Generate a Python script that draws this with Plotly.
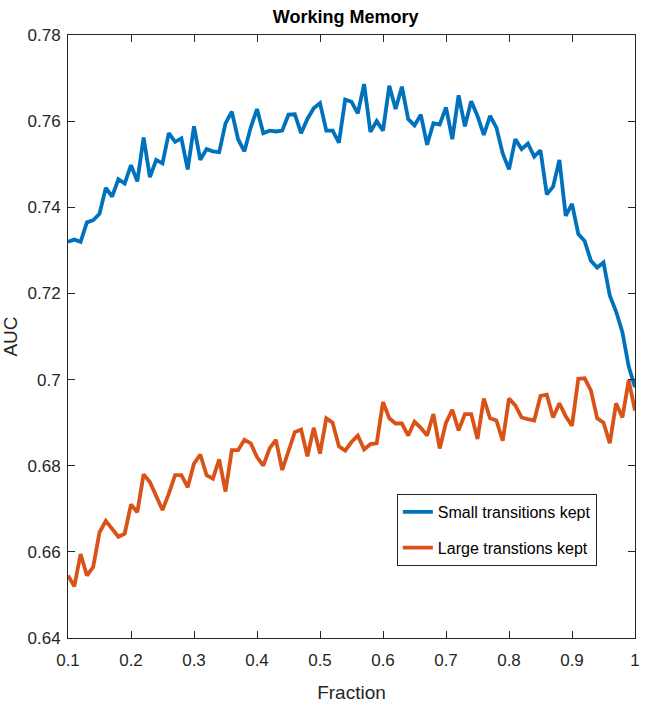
import plotly.graph_objects as go

fraction = [round(0.10 + 0.01 * i, 2) for i in range(91)]

small_kept = [
    0.7320, 0.7325, 0.7320, 0.7365, 0.7370, 0.7385, 0.7445, 0.7425, 0.7465, 0.7455,
    0.7498, 0.7460, 0.7562, 0.7470, 0.7510, 0.7502, 0.7572, 0.7552, 0.7560, 0.7488,
    0.7588, 0.7510, 0.7535, 0.7530, 0.7528, 0.7595, 0.7622, 0.7558, 0.7530, 0.7585,
    0.7628, 0.7572, 0.7578, 0.7576, 0.7578, 0.7615, 0.7616, 0.7572, 0.7605, 0.7630,
    0.7642, 0.7578, 0.7578, 0.7550, 0.7650, 0.7645, 0.7618, 0.7686, 0.7575, 0.7600,
    0.7578, 0.7682, 0.7628, 0.7680, 0.7605, 0.7590, 0.7615, 0.7545, 0.7595, 0.7592,
    0.7632, 0.7558, 0.7660, 0.7588, 0.7646, 0.7612, 0.7568, 0.7612, 0.7585, 0.7525,
    0.7488, 0.7558, 0.7535, 0.7548, 0.7518, 0.7532, 0.7430, 0.7448, 0.7510, 0.7380,
    0.7408, 0.7338, 0.7322, 0.7276, 0.7260, 0.7272, 0.7195, 0.7158, 0.7110, 0.7030,
    0.6982,
]

large_kept = [
    0.6545, 0.6520, 0.6595, 0.6545, 0.6565, 0.6645, 0.6672, 0.6655, 0.6635, 0.6642,
    0.6710, 0.6692, 0.6780, 0.6762, 0.6728, 0.6697, 0.6735, 0.6778, 0.6778, 0.6750,
    0.6805, 0.6826, 0.6778, 0.6770, 0.6815, 0.6740, 0.6836, 0.6836, 0.6860, 0.6852,
    0.6820, 0.6800, 0.6840, 0.6860, 0.6790, 0.6832, 0.6878, 0.6884, 0.6822, 0.6888,
    0.6828, 0.6910, 0.6900, 0.6845, 0.6835, 0.6855, 0.6870, 0.6838, 0.6850, 0.6852,
    0.6948, 0.6910, 0.6898, 0.6898, 0.6870, 0.6902, 0.6888, 0.6870, 0.6920, 0.6840,
    0.6900, 0.6930, 0.6882, 0.6920, 0.6920, 0.6862, 0.6956, 0.6910, 0.6905, 0.6858,
    0.6956, 0.6940, 0.6912, 0.6908, 0.6905, 0.6962, 0.6965, 0.6912, 0.6945, 0.6915,
    0.6893, 0.7002, 0.7003, 0.6975, 0.6910, 0.6900, 0.6852, 0.6945, 0.6912, 0.6998,
    0.6928,
]

x_ticks = [0.1, 0.2, 0.3, 0.4, 0.5, 0.6, 0.7, 0.8, 0.9, 1.0]
x_tick_labels = ["0.1", "0.2", "0.3", "0.4", "0.5", "0.6", "0.7", "0.8", "0.9", "1"]
y_ticks = [0.64, 0.66, 0.68, 0.70, 0.72, 0.74, 0.76, 0.78]
y_tick_labels = ["0.64", "0.66", "0.68", "0.7", "0.72", "0.74", "0.76", "0.78"]

FONT = "Liberation Sans, Arial, Helvetica, sans-serif"
AX = "#262626"

fig = go.Figure()
fig.add_trace(go.Scatter(x=fraction, y=small_kept, mode="lines",
                         name="Small transitions kept", legendgroup="s",
                         line=dict(color="#0072BD", width=3.8)))
fig.add_trace(go.Scatter(x=fraction, y=large_kept, mode="lines",
                         name="Large transtions kept", legendgroup="l",
                         line=dict(color="#D95319", width=3.8)))

axis_common = dict(showline=True, linecolor=AX, linewidth=1, mirror="ticks",
                   ticks="inside", ticklen=7, tickcolor=AX, tickwidth=1,
                   showgrid=False, zeroline=False,
                   tickfont=dict(family=FONT, size=17, color=AX))

fig.update_layout(
    width=646, height=708, autosize=False,
    paper_bgcolor="white", plot_bgcolor="white",
    margin=dict(l=68, r=6, t=35, b=70),
    title=dict(text="<b>Working Memory</b>", x=0.535, xanchor="center",
               y=1 - 16.5 / 708, yanchor="middle",
               font=dict(family=FONT, size=18, color="black")),
    xaxis=dict(range=[0.1, 1.0], tickvals=x_ticks, ticktext=x_tick_labels,
               ticklabelstandoff=7,
               title=dict(text="Fraction", font=dict(family=FONT, size=19, color=AX),
                          standoff=16),
               **axis_common),
    yaxis=dict(range=[0.64, 0.78], tickvals=y_ticks, ticktext=y_tick_labels,
               ticklabelstandoff=3,
               title=dict(text="AUC", font=dict(family=FONT, size=19, color=AX),
                          standoff=8),
               **axis_common),
    legend=dict(x=0.580, y=0.2388, xanchor="left", yanchor="top",
                bgcolor="white", bordercolor=AX, borderwidth=1,
                font=dict(family=FONT, size=16, color="black"),
                traceorder="grouped", tracegroupgap=12),
    showlegend=True,
)

fig.write_html("out.html", config={"displayModeBar": False},
               post_script="document.body.style.margin='0';")
